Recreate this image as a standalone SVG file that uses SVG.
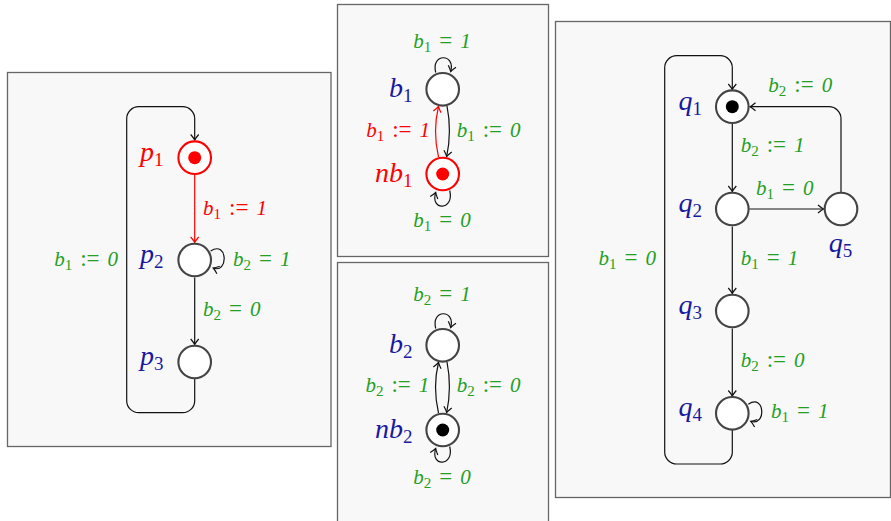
<svg xmlns="http://www.w3.org/2000/svg" width="891" height="521" viewBox="0 0 891 521">
<style>
.panel{fill:#f8f8f8;stroke:#666;stroke-width:1.3}
.st{fill:#fff;stroke:#444;stroke-width:2.1}
.st.r{stroke:#f00}
.dot{fill:#000}
.dot.r{fill:#f00}
.e{fill:none;stroke:#111;stroke-width:1.2}
.e.r{stroke:#f00}
.nl{font-family:"Liberation Serif",serif;font-style:italic;font-size:28px}
.el{font-family:"Liberation Serif",serif;font-style:italic;font-size:21px}
.s{font-style:normal;font-size:19px}
.es{font-style:normal;font-size:15px}
.up{font-style:normal;font-size:23px}
.blue{fill:#1818a0}
.red{fill:#f00}
.green{fill:#22a022}
</style>
<defs>
<marker id="a" markerUnits="userSpaceOnUse" markerWidth="12" markerHeight="12" viewBox="-7 -6 9 12" refX="0" refY="0" orient="auto">
<path d="M-5.5,-4 Q-2,-1 0,0 Q-2,1 -5.5,4" fill="none" stroke="#111" stroke-width="1.2"/>
</marker>
<marker id="ar" markerUnits="userSpaceOnUse" markerWidth="12" markerHeight="12" viewBox="-7 -6 9 12" refX="0" refY="0" orient="auto">
<path d="M-5.5,-4 Q-2,-1 0,0 Q-2,1 -5.5,4" fill="none" stroke="#f00" stroke-width="1.2"/>
</marker>
</defs>

<g id="panels">
<rect class="panel" x="7.5" y="72.5" width="323.5" height="374"/>
<rect class="panel" x="337.5" y="4.5" width="211" height="252"/>
<rect class="panel" x="337.5" y="262.5" width="211" height="270"/>
<rect class="panel" x="555.5" y="21.5" width="335" height="476"/>
</g>

<g id="connectors">
<!-- left panel -->
<path class="e" d="M194.7,379 V400.7 A12,12 0 0 1 182.7,412.7 H138.7 A12,12 0 0 1 126.7,400.7 V118.7 A12,12 0 0 1 138.7,106.7 H182.7 A12,12 0 0 1 194.7,118.7 V140" marker-end="url(#a)"/>
<path class="e r" d="M194.7,175 V242.5" marker-end="url(#ar)"/>
<path class="e" d="M194.7,277.5 V344.5" marker-end="url(#a)"/>
<path class="e" d="M210.7,251 C227.7,240 228.7,274 213.2,268" marker-end="url(#a)"/>
<!-- middle top -->
<path class="e" d="M435.7,72.5 C430.7,53 455.7,53 450.7,71.5" marker-end="url(#a)"/>
<path class="e" d="M447,106 Q452,131 446.7,156.5" marker-end="url(#a)"/>
<path class="e r" d="M438.5,157 Q432.5,131 438.5,106.5" marker-end="url(#ar)"/>
<path class="e" d="M449.7,190.5 C454.7,211 429.7,211 435.7,192.5" marker-end="url(#a)"/>
<!-- middle bottom -->
<path class="e" d="M435.7,328.5 C430.7,309 455.7,309 450.7,327.5" marker-end="url(#a)"/>
<path class="e" d="M447,362 Q452,387 446.7,412.5" marker-end="url(#a)"/>
<path class="e" d="M438.5,413 Q432.5,387 438.5,362.5" marker-end="url(#a)"/>
<path class="e" d="M449.7,446.5 C454.7,467 429.7,467 435.7,448.5" marker-end="url(#a)"/>
<!-- right panel -->
<path class="e" d="M732.3,430 V452 A12,12 0 0 1 720.3,464 H676.7 A12,12 0 0 1 664.7,452 V67.7 A12,12 0 0 1 676.7,55.7 H720.3 A12,12 0 0 1 732.3,67.7 V89.5" marker-end="url(#a)"/>
<path class="e" d="M732.3,124 V191.5" marker-end="url(#a)"/>
<path class="e" d="M732.3,226.5 V293.5" marker-end="url(#a)"/>
<path class="e" d="M732.3,328.5 V396" marker-end="url(#a)"/>
<path class="e" d="M749.3,209 H823.5" marker-end="url(#a)"/>
<path class="e" d="M841,192 V118.7 A12,12 0 0 0 829,106.7 H750" marker-end="url(#a)"/>
<path class="e" d="M748.3,404.3 C765.3,393 766.3,427 750.8,421.3" marker-end="url(#a)"/>
</g>

<g id="edge-labels">
<text class="el red" x="203" y="214.5">b<tspan class="es" dy="4">1</tspan><tspan class="up" dy="-4" dx="8">:=</tspan><tspan dx="8">1</tspan></text>
<text class="el green" x="118" y="265.5" text-anchor="end">b<tspan class="es" dy="4">1</tspan><tspan class="up" dy="-4" dx="8">:=</tspan><tspan dx="8">0</tspan></text>
<text class="el green" x="233" y="265.5">b<tspan class="es" dy="4">2</tspan><tspan class="up" dy="-4" dx="8">=</tspan><tspan dx="8">1</tspan></text>
<text class="el green" x="203" y="315.5">b<tspan class="es" dy="4">2</tspan><tspan class="up" dy="-4" dx="8">=</tspan><tspan dx="8">0</tspan></text>

<text class="el green" x="442" y="47.5" text-anchor="middle">b<tspan class="es" dy="4">1</tspan><tspan class="up" dy="-4" dx="8">=</tspan><tspan dx="8">1</tspan></text>
<text class="el red" x="430" y="137" text-anchor="end">b<tspan class="es" dy="4">1</tspan><tspan class="up" dy="-4" dx="8">:=</tspan><tspan dx="8">1</tspan></text>
<text class="el green" x="456.7" y="137">b<tspan class="es" dy="4">1</tspan><tspan class="up" dy="-4" dx="8">:=</tspan><tspan dx="8">0</tspan></text>
<text class="el green" x="442" y="227.2" text-anchor="middle">b<tspan class="es" dy="4">1</tspan><tspan class="up" dy="-4" dx="8">=</tspan><tspan dx="8">0</tspan></text>

<text class="el green" x="442" y="301.2" text-anchor="middle">b<tspan class="es" dy="4">2</tspan><tspan class="up" dy="-4" dx="8">=</tspan><tspan dx="8">1</tspan></text>
<text class="el green" x="429.3" y="391.8" text-anchor="end">b<tspan class="es" dy="4">2</tspan><tspan class="up" dy="-4" dx="8">:=</tspan><tspan dx="8">1</tspan></text>
<text class="el green" x="456.7" y="391.8">b<tspan class="es" dy="4">2</tspan><tspan class="up" dy="-4" dx="8">:=</tspan><tspan dx="8">0</tspan></text>
<text class="el green" x="442" y="483.5" text-anchor="middle">b<tspan class="es" dy="4">2</tspan><tspan class="up" dy="-4" dx="8">=</tspan><tspan dx="8">0</tspan></text>

<text class="el green" x="768.3" y="92.2">b<tspan class="es" dy="4">2</tspan><tspan class="up" dy="-4" dx="8">:=</tspan><tspan dx="8">0</tspan></text>
<text class="el green" x="740.7" y="152.2">b<tspan class="es" dy="4">2</tspan><tspan class="up" dy="-4" dx="8">:=</tspan><tspan dx="8">1</tspan></text>
<text class="el green" x="756" y="194.5">b<tspan class="es" dy="4">1</tspan><tspan class="up" dy="-4" dx="8">=</tspan><tspan dx="8">0</tspan></text>
<text class="el green" x="740.7" y="264.8">b<tspan class="es" dy="4">1</tspan><tspan class="up" dy="-4" dx="8">=</tspan><tspan dx="8">1</tspan></text>
<text class="el green" x="740.7" y="367.2">b<tspan class="es" dy="4">2</tspan><tspan class="up" dy="-4" dx="8">:=</tspan><tspan dx="8">0</tspan></text>
<text class="el green" x="771" y="417.8">b<tspan class="es" dy="4">1</tspan><tspan class="up" dy="-4" dx="8">=</tspan><tspan dx="8">1</tspan></text>
<text class="el green" x="656" y="264.8" text-anchor="end">b<tspan class="es" dy="4">1</tspan><tspan class="up" dy="-4" dx="8">=</tspan><tspan dx="8">0</tspan></text>
</g>

<g id="node-p1"><circle class="st r" cx="194.7" cy="157.7" r="16.3"/><circle class="dot r" cx="194.7" cy="157.7" r="6.5"/><text class="nl red" x="163.5" y="160.5" text-anchor="end">p<tspan class="s" dy="5">1</tspan></text></g>
<g id="node-p2"><circle class="st" cx="194.7" cy="260" r="16.3"/><text class="nl blue" x="163.5" y="262.8" text-anchor="end">p<tspan class="s" dy="5">2</tspan></text></g>
<g id="node-p3"><circle class="st" cx="194.7" cy="362" r="16.3"/><text class="nl blue" x="163.5" y="364.8" text-anchor="end">p<tspan class="s" dy="5">3</tspan></text></g>

<g id="node-b1"><circle class="st" cx="442.7" cy="89.3" r="16.3"/><text class="nl blue" x="412.5" y="97.3" text-anchor="end">b<tspan class="s" dy="5">1</tspan></text></g>
<g id="node-nb1"><circle class="st r" cx="442.7" cy="174" r="16.3"/><circle class="dot r" cx="442.7" cy="174" r="6.5"/><text class="nl red" x="412.5" y="182" text-anchor="end">nb<tspan class="s" dy="5">1</tspan></text></g>
<g id="node-b2"><circle class="st" cx="442.7" cy="345.3" r="16.3"/><text class="nl blue" x="412.5" y="353.3" text-anchor="end">b<tspan class="s" dy="5">2</tspan></text></g>
<g id="node-nb2"><circle class="st" cx="442.7" cy="430" r="16.3"/><circle class="dot" cx="442.7" cy="430" r="6.5"/><text class="nl blue" x="412.5" y="438" text-anchor="end">nb<tspan class="s" dy="5">2</tspan></text></g>

<g id="node-q1"><circle class="st" cx="732.3" cy="106.7" r="16.3"/><circle class="dot" cx="732.3" cy="106.7" r="6.5"/><text class="nl blue" x="702" y="109.7" text-anchor="end">q<tspan class="s" dy="5">1</tspan></text></g>
<g id="node-q2"><circle class="st" cx="732.3" cy="209" r="16.3"/><text class="nl blue" x="702" y="212" text-anchor="end">q<tspan class="s" dy="5">2</tspan></text></g>
<g id="node-q3"><circle class="st" cx="732.3" cy="311" r="16.3"/><text class="nl blue" x="702" y="314" text-anchor="end">q<tspan class="s" dy="5">3</tspan></text></g>
<g id="node-q4"><circle class="st" cx="732.3" cy="413.3" r="16.3"/><text class="nl blue" x="702" y="416.3" text-anchor="end">q<tspan class="s" dy="5">4</tspan></text></g>
<g id="node-q5"><circle class="st" cx="841" cy="209" r="16.3"/><text class="nl blue" x="840.5" y="252" text-anchor="middle">q<tspan class="s" dy="5">5</tspan></text></g>
</svg>
